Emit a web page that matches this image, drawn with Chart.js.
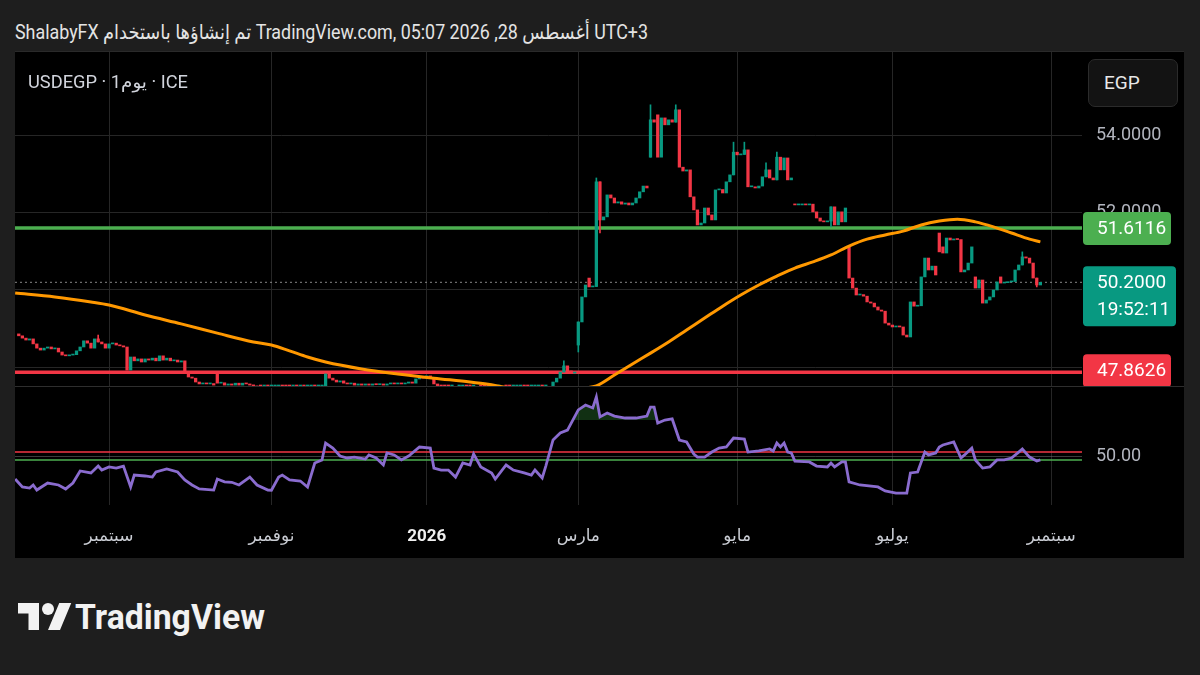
<!DOCTYPE html>
<html>
<head>
<meta charset="utf-8">
<script src="https://cdn.jsdelivr.net/npm/chart.js@4.4.1/dist/chart.umd.min.js"></script>
<style>
  html, body { margin: 0; padding: 0; }
  body { width: 1200px; height: 675px; background: #1e1e1e; position: relative; overflow: hidden;
         font-family: Roboto, "DejaVu Sans", sans-serif; }
  .fit { position: absolute; white-space: nowrap; transform-origin: 0 50%; z-index: 5; }
  #header { left: 15px; top: 20px; font-size: 20px; line-height: 24px; color: #e4e4e4; }
  #panel { position: absolute; left: 15px; top: 51px; width: 1169px; height: 507px; background: #000; border-top: 1px solid #2a2a2a; box-sizing: border-box; }
  #mainPane { position: absolute; left: 15px; top: 52px; }
  #rsiPane { position: absolute; left: 15px; top: 387px; }
  #sep { position: absolute; left: 15px; top: 386px; width: 1169px; height: 1px; background: #2e2e2e; }
  #title { left: 28px; top: 71px; font-size: 18px; line-height: 22px; color: #d1d4dc; }
  #ccy { position: absolute; left: 1088px; top: 59px; width: 90px; height: 48px; box-sizing: border-box;
         border: 1px solid #2b2b2b; border-radius: 7px; background: #131313; color: #e8e8e8;
         font-size: 19px; line-height: 46px; padding-left: 15px; z-index: 5; }
  #logo { position: absolute; left: 18px; top: 597px; }
  #brand { left: 75px; top: 597px; font-size: 35px; line-height: 42px; font-weight: bold; color: #f2f2f2; }
</style>
</head>
<body>
<div id="header" class="fit" data-w="633">ShalabyFX تم إنشاؤها باستخدام TradingView.com, 05:07 2026 ,28 أغسطس UTC+3</div>
<div id="panel"></div>
<canvas id="mainPane" width="1169" height="334"></canvas>
<div id="sep"></div>
<canvas id="rsiPane" width="1169" height="171"></canvas>
<div id="title" class="fit" data-w="160">USDEGP · 1يوم · ICE</div>
<div id="ccy">EGP</div>
<svg id="logo" width="54" height="42" viewBox="0 0 36 28"><path fill="#f2f2f2" d="M14 22H7V11H0V4h14v18zM28 22h-8l7.5-18h8L28 22z"/><circle fill="#f2f2f2" cx="20" cy="8" r="4"/></svg>
<div id="brand" class="fit" data-w="190">TradingView</div>

<script>
// daily closes, first bar = 25 sessions before 1 Sep 2025 (bar 0)
const firstBar = -25;
const closes = [
  48.81, 48.75, 48.70, 48.73, 48.60, 48.49, 48.44, 48.49, 48.52, 48.47,
  48.49, 48.39, 48.31, 48.29, 48.31, 48.32, 48.42, 48.52, 48.68, 48.62,
  48.49, 48.73, 48.65, 48.60, 48.49, 48.60, 48.62, 48.57, 48.55, 48.52,
  47.92, 48.26, 48.16, 48.21, 48.13, 48.21, 48.18, 48.23, 48.16, 48.29,
  48.18, 48.23, 48.16, 48.18, 48.13, 48.16, 47.87, 47.74, 47.71, 47.61,
  47.56, 47.58, 47.56, 47.57, 47.53, 47.58, 47.59, 47.53, 47.56, 47.53,
  47.58, 47.53, 47.58, 47.56, 47.53, 47.51, 47.46, 47.44, 47.45, 47.43,
  47.44, 47.46, 47.47, 47.45, 47.44, 47.42, 47.43, 47.41, 47.42, 47.40,
  47.42, 47.43, 47.41, 47.42, 47.44, 47.82, 47.71, 47.66, 47.61, 47.64,
  47.58, 47.56, 47.58, 47.53, 47.56, 47.53, 47.56, 47.53, 47.56, 47.54,
  47.56, 47.53, 47.56, 47.58, 47.56, 47.58, 47.56, 47.58, 47.61, 47.58,
  47.69, 47.74, 47.71, 47.77, 47.71, 47.56, 47.45, 47.44, 47.42, 47.41,
  47.43, 47.40, 47.42, 47.44, 47.43, 47.41, 47.42, 47.45, 47.43, 47.41,
  47.40, 47.42, 47.44, 47.46, 47.43, 47.42, 47.40, 47.41, 47.43, 47.45,
  47.44, 47.42, 47.43, 47.45, 47.47, 47.46, 47.48, 47.45, 47.61, 47.71,
  47.87, 48.03, 47.90, 47.84, 47.87, 49.17, 49.82, 50.13, 50.08, 50.09,
  52.81, 51.82, 51.90, 52.47, 52.39, 52.26, 52.29, 52.23, 52.26, 52.21,
  52.26, 52.39, 52.55, 52.70, 52.65, 54.42, 54.36, 53.45, 54.47, 54.29,
  54.42, 54.36, 54.68, 53.19, 53.09, 53.12, 52.42, 52.08, 51.69, 51.74,
  52.13, 51.95, 51.82, 52.60, 52.61, 52.52, 52.81, 52.99, 53.58, 53.51,
  53.52, 53.64, 52.68, 52.68, 52.65, 52.70, 52.94, 53.12, 52.91, 52.86,
  53.45, 53.12, 53.43, 52.86, 52.91, 52.21, 52.21, 52.23, 52.21, 52.23,
  52.03, 51.87, 51.79, 51.77, 51.79, 52.16, 51.69, 52.03, 51.77, 52.13,
  50.31, 50.05, 49.87, 49.88, 49.84, 49.69, 49.66, 49.56, 49.48, 49.45,
  49.14, 49.09, 49.04, 49.06, 49.04, 48.83, 48.78, 49.69, 49.58, 49.59,
  50.34, 50.83, 50.52, 50.62, 50.39, 50.99, 50.96, 51.35, 51.30, 51.32,
  51.31, 50.47, 50.52, 50.70, 51.12, 50.05, 50.26, 49.66, 49.74, 49.82,
  50.00, 50.21, 50.18, 50.19, 50.21, 50.22, 50.52, 50.65, 50.86, 50.83,
  50.70, 50.31, 50.13, 50.20
];
// sessions that did not open at the previous close (bar -> open)
const gapOpens = { '-25': 48.86, 30: 47.87, 130: 48.57, 133: 50.31, 150: 53.45, 152: 54.55,
                   190: 52.23, 205: 51.12, 230: 51.48, 231: 51.12, 240: 50.34, 247: 50.34 };
// visible shadows (bar -> price)
const wickHigh = { '-3': 48.83, 126: 48.16, 135: 52.91, 150: 54.81, 157: 54.81, 173: 53.84,
                   176: 53.84, 182: 53.30, 185: 53.58, 253: 50.99 };
const wickLow = { 130: 48.39, 136: 51.48, 200: 51.64, 257: 50.08 };

// orange moving average [bar, value]
const maPoints = [
  [-26, 49.92], [-15, 49.82], [-5, 49.69], [0, 49.61], [10, 49.35], [20, 49.12], [30, 48.88],
  [40, 48.65], [45, 48.57], [50, 48.42], [55, 48.26], [60, 48.13], [70, 47.95], [80, 47.82],
  [90, 47.71], [100, 47.61], [105, 47.55], [110, 47.47], [118, 47.40], [125, 47.40], [131, 47.45],
  [135, 47.51], [140, 47.79], [145, 48.08], [150, 48.36], [155, 48.65], [160, 48.96], [165, 49.27],
  [170, 49.58], [175, 49.87], [180, 50.13], [185, 50.36], [190, 50.57], [195, 50.73], [200, 50.91],
  [205, 51.14], [210, 51.32], [215, 51.43], [220, 51.53], [225, 51.69], [230, 51.79], [235, 51.84],
  [240, 51.77], [245, 51.64], [250, 51.48], [255, 51.32], [258, 51.25]
];

// oscillator pane [bar, value]
const rsiPoints = [
  [-26, 37.2], [-24, 32.8], [-22, 32.2], [-21, 33.9], [-20, 31.1], [-17, 35.0], [-14, 33.9],
  [-12, 31.7], [-10, 35.0], [-8, 41.7], [-5, 40.6], [-3, 44.4], [-2, 42.2], [0, 43.9], [2, 43.3],
  [4, 44.4], [6, 32.8], [7, 39.4], [10, 38.9], [12, 38.3], [13, 41.1], [16, 42.8], [19, 41.1],
  [21, 36.7], [23, 33.9], [25, 31.7], [29, 31.1], [30, 37.2], [32, 35.6], [34, 35.4], [36, 33.9],
  [39, 38.3], [41, 33.9], [44, 31.1], [45, 31.0], [47, 38.3], [48, 39.4], [50, 36.7], [53, 36.1],
  [55, 32.8], [57, 46.1], [59, 47.8], [60, 57.2], [62, 54.4], [64, 50.0], [66, 48.9], [68, 49.4],
  [71, 48.3], [72, 50.6], [74, 48.9], [76, 45.0], [77, 51.7], [79, 50.6], [81, 47.8], [83, 50.0],
  [86, 55.0], [89, 54.4], [90, 43.3], [92, 42.2], [94, 42.2], [96, 38.3], [98, 46.1], [100, 45.0],
  [101, 51.1], [103, 43.9], [106, 40.6], [107, 37.2], [110, 45.0], [112, 42.2], [115, 40.6],
  [117, 39.4], [118, 42.2], [120, 37.8], [121, 44.4], [123, 58.9], [125, 62.8], [127, 64.4],
  [130, 75.6], [132, 78.3], [134, 76.7], [135, 82.8], [136, 71.7], [138, 73.9], [140, 72.2],
  [143, 71.1], [146, 71.1], [149, 72.2], [150, 77.2], [151, 77.2], [152, 68.3], [154, 70.0],
  [156, 70.6], [158, 58.9], [160, 57.8], [162, 51.1], [163, 49.4], [165, 49.4], [167, 52.2],
  [169, 54.4], [171, 55.0], [173, 60.0], [176, 59.4], [177, 52.2], [180, 52.8], [183, 53.9],
  [184, 52.8], [185, 57.2], [186, 55.0], [187, 57.2], [188, 52.2], [189, 51.7], [190, 47.2],
  [194, 46.7], [196, 44.4], [199, 43.9], [200, 46.1], [201, 43.9], [203, 46.7], [204, 46.7],
  [205, 35.6], [208, 33.9], [213, 32.8], [215, 30.6], [218, 29.4], [221, 29.4], [222, 40.6],
  [224, 41.1], [226, 52.2], [227, 50.6], [229, 51.7], [230, 55.0], [231, 56.1], [234, 57.8],
  [236, 48.9], [237, 50.6], [239, 54.4], [240, 47.8], [242, 43.3], [244, 43.9], [246, 47.8],
  [248, 47.8], [250, 48.9], [252, 52.2], [253, 53.9], [255, 49.4], [257, 47.2], [258, 47.8]
];

const greenLevel = 51.6116;
const redLevel = 47.8626;
const lastPrice = 50.2;
const countdown = '19:52:11';
const priceTicks = [48, 50, 52, 54];
const rsiTicks = [50];
const rsiUpper = 52.2;
const rsiLower = 47.8;
const rsiOverbought = 70;
const monthTicks = [0, 45, 88, 130, 174, 217, 261];
const monthLabels = ['سبتمبر', 'نوفمبر', '2026', 'مارس', 'مايو', 'يوليو', 'سبتمبر'];

const UP = '#089981';
const DOWN = '#f23645';
const GRID = '#262626';
const FONT = 'Roboto, "DejaVu Sans", sans-serif';
const X_MIN = -26.04, X_MAX = 269.53;

Chart.defaults.font.family = FONT;
Chart.defaults.animation = false;

// candles
const opens = closes.map((c, i) => {
  const bar = firstBar + i;
  if (gapOpens[bar] !== undefined) return gapOpens[bar];
  return closes[i - 1];
});
const bodyData = closes.map((c, i) => ({ x: firstBar + i, y: [opens[i], c] }));
const bodyColors = closes.map((c, i) => (c >= opens[i] ? UP : DOWN));
const wickData = [];
const wickColors = [];
closes.forEach((c, i) => {
  const bar = firstBar + i;
  if (wickHigh[bar] === undefined && wickLow[bar] === undefined) return;
  const lo = Math.min(opens[i], c, wickLow[bar] ?? Infinity);
  const hi = Math.max(opens[i], c, wickHigh[bar] ?? -Infinity);
  wickData.push({ x: bar, y: [lo, hi] });
  wickColors.push(bodyColors[i]);
});

function flat(v) {
  return [{ x: X_MIN, y: v }, { x: X_MAX, y: v }];
}

function noPad(s) {
  s.paddingTop = 0; s.paddingBottom = 0; s.paddingLeft = 0; s.paddingRight = 0;
}

function monthAxis(showLabels) {
  return {
    type: 'linear', min: X_MIN, max: X_MAX, offset: false,
    afterBuildTicks: s => { s.ticks = monthTicks.map(v => ({ value: v })); },
    afterFit: s => { s.height = showLabels ? 53 : 0; noPad(s); },
    grid: { color: GRID, drawTicks: false, offset: false },
    border: { display: false },
    ticks: {
      display: showLabels, autoSkip: false, maxRotation: 0, padding: 22,
      callback: (v, i) => monthLabels[i],
      color: ctx => (ctx.index === 2 ? '#f0f0f0' : '#c9ccd3'),
      font: ctx => ({ family: FONT, size: 17, weight: ctx.index === 2 ? 'bold' : 'normal' })
    }
  };
}

function roundRect(ctx, x, y, w, h, r) {
  ctx.beginPath();
  ctx.moveTo(x + r, y);
  ctx.lineTo(x + w - r, y);
  ctx.quadraticCurveTo(x + w, y, x + w, y + r);
  ctx.lineTo(x + w, y + h - r);
  ctx.quadraticCurveTo(x + w, y + h, x + w - r, y + h);
  ctx.lineTo(x + r, y + h);
  ctx.quadraticCurveTo(x, y + h, x, y + h - r);
  ctx.lineTo(x, y + r);
  ctx.quadraticCurveTo(x, y, x + r, y);
  ctx.closePath();
}

// price tags on the right scale
const priceTags = {
  id: 'priceTags',
  afterDraw(chart) {
    const { ctx, chartArea, scales: { y } } = chart;
    const left = chartArea.right + 1;
    ctx.save();
    ctx.font = '19px ' + FONT;
    ctx.textBaseline = 'middle';
    ctx.textAlign = 'left';

    let py = y.getPixelForValue(greenLevel);
    ctx.fillStyle = '#4caf50';
    roundRect(ctx, left, py - 16, 88, 33, 4); ctx.fill();
    ctx.fillStyle = '#ffffff';
    ctx.fillText(greenLevel.toFixed(4), left + 14, py + 1);

    py = y.getPixelForValue(lastPrice);
    ctx.fillStyle = UP;
    roundRect(ctx, left, py - 16, 93, 60, 4); ctx.fill();
    ctx.fillStyle = '#ffffff';
    ctx.fillText(lastPrice.toFixed(4), left + 14, py + 1);
    ctx.fillText(countdown, left + 14, py + 28);

    py = y.getPixelForValue(redLevel);
    ctx.fillStyle = DOWN;
    roundRect(ctx, left, py - 18, 88, 33, 4); ctx.fill();
    ctx.fillStyle = '#ffffff';
    ctx.fillText(redLevel.toFixed(4), left + 14, py - 1);
    ctx.restore();
  }
};

new Chart(document.getElementById('mainPane'), {
  type: 'bar',
  data: {
    datasets: [
      { type: 'line', data: flat(lastPrice), borderColor: 'rgba(150,150,150,0.9)', borderWidth: 1,
        borderDash: [2, 3], pointRadius: 0, order: 6 },
      { type: 'line', data: flat(redLevel), borderColor: DOWN, borderWidth: 3.5, pointRadius: 0, order: 5 },
      { type: 'line', data: flat(greenLevel), borderColor: '#4caf50', borderWidth: 3.5, pointRadius: 0, order: 5 },
      { type: 'line', data: maPoints.map(([x, y]) => ({ x, y })), borderColor: '#ff9800', borderWidth: 3,
        pointRadius: 0, cubicInterpolationMode: 'monotone', order: 1 },
      { data: wickData, backgroundColor: wickColors, barThickness: 1, grouped: false, order: 3 },
      { data: bodyData, backgroundColor: bodyColors, barThickness: 2.6, minBarLength: 1, grouped: false, order: 2 }
    ]
  },
  options: {
    responsive: false,
    layout: { padding: 0, autoPadding: false },
    plugins: { legend: { display: false }, tooltip: { enabled: false } },
    scales: {
      x: monthAxis(false),
      y: {
        position: 'right', min: 47.5065, max: 56.1818,
        afterBuildTicks: s => { s.ticks = priceTicks.map(v => ({ value: v })); },
        afterFit: s => { s.width = 102; noPad(s); },
        grid: { color: GRID, drawTicks: false },
        border: { display: false },
        ticks: { padding: 14, color: '#b2b5be', font: { size: 18 }, callback: v => v.toFixed(4) }
      }
    }
  },
  plugins: [priceTags]
});

new Chart(document.getElementById('rsiPane'), {
  type: 'line',
  data: {
    datasets: [
      { data: flat(rsiUpper), borderColor: DOWN, borderWidth: 1.6, pointRadius: 0, order: 3 },
      { data: flat(rsiLower), borderColor: '#4caf50', borderWidth: 1.4, pointRadius: 0, order: 3 },
      { data: rsiPoints.map(([x, y]) => ({ x, y })), borderColor: '#8a6ccf', borderWidth: 2.8,
        pointRadius: 0, tension: 0, order: 1,
        fill: { target: { value: rsiOverbought }, above: 'rgba(46,125,50,0.38)', below: 'rgba(0,0,0,0)' } }
    ]
  },
  options: {
    responsive: false,
    layout: { padding: { top: 1 }, autoPadding: false },
    plugins: { legend: { display: false }, tooltip: { enabled: false } },
    scales: {
      x: monthAxis(true),
      y: {
        position: 'right', min: 22.78, max: 87.78,
        afterBuildTicks: s => { s.ticks = rsiTicks.map(v => ({ value: v })); },
        afterFit: s => { s.width = 102; noPad(s); },
        grid: { color: 'rgba(110,110,110,0.55)', drawTicks: false },
        border: { display: false },
        ticks: { padding: 14, color: '#b2b5be', font: { size: 18 }, callback: v => v.toFixed(2) }
      }
    }
  }
});

// squeeze the html labels to the widths seen in the screenshot
function fitTexts() {
  document.querySelectorAll('.fit').forEach(el => {
    el.style.transform = 'none';
    const w = el.getBoundingClientRect().width;
    el.style.transform = 'scaleX(' + (Number(el.dataset.w) / w) + ')';
  });
}
fitTexts();
if (document.fonts) document.fonts.ready.then(fitTexts);
</script>
</body>
</html>
